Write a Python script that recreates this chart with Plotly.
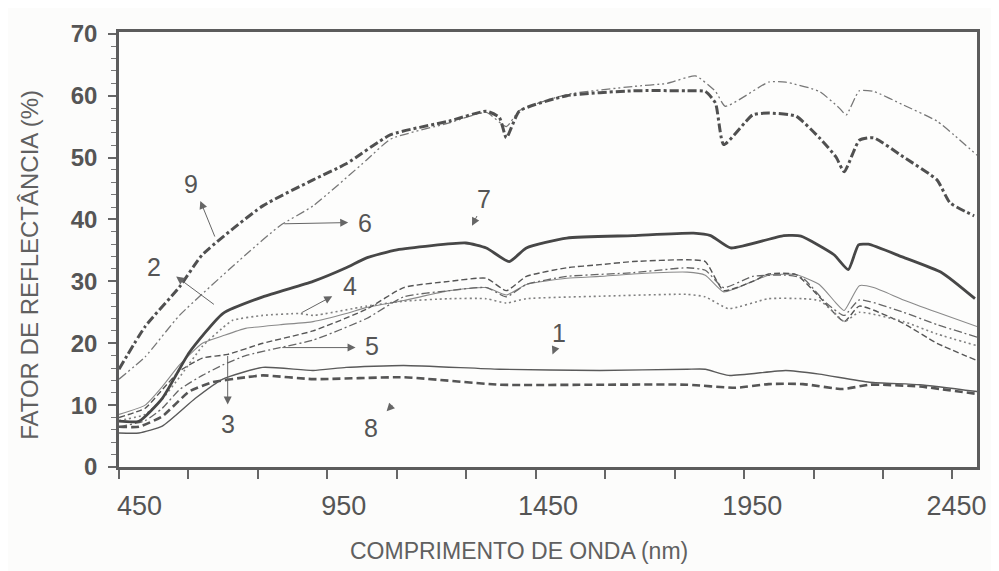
import plotly.graph_objects as go

# ---- data (wavelength nm, reflectance %) ----
wl_1 = [400, 449, 506, 587, 654, 752, 875, 956, 1097, 1331, 1577, 1791, 1835, 1892, 2032, 2114, 2237, 2360, 2500]
r_1 = [5.5, 5.5, 6.6, 11.1, 14.2, 16.1, 15.6, 16.1, 16.4, 15.8, 15.6, 15.8, 15.8, 14.8, 15.6, 15.0, 13.7, 13.3, 12.2]

wl_2 = [400, 464, 506, 548, 604, 654, 710, 794, 875, 956, 1006, 1097, 1208, 1299, 1348, 1397, 1496, 1577, 1658,
        1791, 1835, 1880, 1951, 1990, 2057, 2114, 2155, 2175, 2212, 2247, 2320, 2402, 2500]
r_2 = [8.5, 10.0, 13.0, 16.5, 20.0, 21.2, 22.4, 23.0, 23.5, 24.8, 25.8, 26.9, 28.5, 29.0, 27.8, 29.5, 30.5, 30.8, 31.2,
       31.5, 31.0, 28.3, 30.0, 31.0, 31.1, 29.5, 26.5, 25.3, 29.3, 29.0, 27.0, 25.0, 22.7]

wl_3 = [400, 464, 506, 548, 604, 666, 752, 875, 1006, 1097, 1208, 1299, 1348, 1397, 1496, 1577, 1658, 1791, 1835,
        1880, 1951, 1990, 2057, 2114, 2175, 2212, 2320, 2402, 2500]
r_3 = [8.0, 9.5, 12.5, 15.5, 17.6, 18.2, 20.0, 22.0, 25.5, 29.0, 30.0, 30.5, 28.5, 30.8, 32.2, 32.7, 33.2, 33.5, 33.2,
       28.5, 30.0, 31.2, 31.1, 27.5, 23.5, 26.0, 23.2, 20.0, 17.2]

wl_4 = [400, 464, 506, 548, 604, 654, 678, 752, 843, 875, 1006, 1097, 1208, 1299, 1348, 1397, 1577, 1791, 1835,
        1892, 1990, 2074, 2114, 2150, 2175, 2212, 2320, 2402, 2500]
r_4 = [7.5, 8.5, 11.0, 14.5, 19.5, 22.5, 23.7, 24.5, 24.8, 24.5, 26.0, 26.8, 27.2, 27.2, 26.5, 27.2, 27.6, 27.9, 27.5,
       25.6, 27.2, 27.2, 26.9, 25.0, 23.5, 25.0, 23.5, 21.5, 19.6]

wl_5 = [400, 464, 506, 548, 604, 654, 710, 794, 875, 1006, 1097, 1208, 1299, 1348, 1397, 1496, 1658, 1791, 1835,
        1880, 1951, 2032, 2074, 2131, 2175, 2212, 2320, 2402, 2500]
r_5 = [6.5, 7.5, 9.5, 12.5, 14.8, 16.5, 18.0, 19.3, 20.5, 24.0, 27.5, 28.5, 29.0, 27.5, 29.5, 30.8, 31.4, 32.2, 31.8,
       29.0, 30.8, 31.0, 30.5, 26.5, 24.5, 27.0, 25.0, 23.0, 21.0]

wl_6 = [400, 464, 548, 710, 794, 875, 1006, 1065, 1208, 1299, 1348, 1380, 1496, 1658, 1742, 1811, 1860, 1884, 1990,
        2032, 2114, 2163, 2180, 2212, 2247, 2320, 2402, 2443, 2500]
r_6 = [14.2, 17.8, 24.5, 34.3, 39.0, 42.2, 49.6, 53.0, 55.6, 57.3, 55.0, 57.6, 60.2, 61.5, 62.0, 63.2, 60.7, 58.3, 62.2,
       62.2, 60.7, 58.0, 56.9, 60.8, 60.7, 58.5, 55.9, 53.7, 50.4]

wl_7 = [400, 449, 506, 572, 654, 752, 875, 956, 1006, 1080, 1249, 1299, 1355, 1397, 1496, 1658, 1806, 1848, 1897,
        2027, 2069, 2150, 2185, 2210, 2234, 2315, 2414, 2495]
r_7 = [7.4, 7.4, 11.1, 18.5, 24.8, 27.5, 30.0, 32.2, 33.8, 35.1, 36.2, 35.4, 33.2, 35.4, 37.0, 37.4, 37.8, 37.4, 35.4,
       37.4, 37.3, 34.3, 31.9, 35.9, 36.0, 34.0, 31.4, 27.2]

wl_8 = [400, 449, 506, 572, 629, 710, 752, 875, 1097, 1331, 1577, 1791, 1909, 1990, 2074, 2172, 2237, 2360, 2500]
r_8 = [6.5, 6.5, 8.2, 12.2, 13.7, 14.5, 14.8, 14.2, 14.5, 13.3, 13.3, 13.3, 12.8, 13.4, 13.4, 12.6, 13.3, 13.0, 11.8]

wl_9 = [400, 464, 548, 604, 752, 875, 956, 1065, 1208, 1299, 1331, 1348, 1380, 1496, 1658, 1791, 1835, 1860, 1880,
        1951, 1990, 2057, 2114, 2155, 2175, 2212, 2247, 2320, 2402, 2434, 2493]
r_9 = [15.8, 22.7, 29.1, 34.3, 42.2, 46.4, 49.0, 53.7, 55.9, 57.5, 56.5, 53.2, 57.5, 60.0, 60.8, 60.8, 60.7, 58.8, 52.1,
       56.9, 57.2, 56.7, 53.2, 50.1, 47.7, 52.8, 53.2, 50.1, 46.4, 42.7, 40.6]

x_tick_vals = [450, 950, 1450, 1950, 2450]
y_tick_vals = [0, 10, 20, 30, 40, 50, 60, 70]
x_title = "COMPRIMENTO DE ONDA (nm)"
y_title = "FATOR DE REFLECTÂNCIA (%)"

# curve labels: (text, label x, label y, arrow head x, head y, tail x, tail y)
labels = [
    ("9", 575, 45.8, 599, 43.0, 636, 37.0),
    ("6", 1003, 39.5, 961, 39.5, 801, 39.3),
    ("7", 1294, 43.3, 1264, 39.0, 1278, 40.8),
    ("2", 486, 32.4, 540, 30.8, 636, 26.1),
    ("4", 966, 29.2, 922, 27.6, 843, 24.8),
    ("5", 1018, 19.6, 979, 19.3, 796, 19.3),
    ("3", 666, 7.0, 666, 10.1, 666, 18.2),
    ("8", 1016, 6.3, 1055, 9.0, 1072, 10.2),
    ("1", 1478, 21.6, 1461, 18.2, 1470, 19.6),
]

styles = {
    "1": dict(color="#5a5a5a", width=1.4, dash="solid"),
    "2": dict(color="#8a8a8a", width=1.1, dash="solid"),
    "3": dict(color="#555555", width=1.4, dash="6px,3px"),
    "4": dict(color="#808080", width=1.6, dash="2px,3px"),
    "5": dict(color="#666666", width=1.3, dash="8px,3px,2px,3px"),
    "6": dict(color="#777777", width=1.3, dash="9px,3px,2px,3px,2px,3px"),
    "7": dict(color="#474747", width=2.8, dash="solid"),
    "8": dict(color="#555555", width=2.6, dash="8px,4px"),
    "9": dict(color="#505050", width=3.0, dash="9px,3px,3px,3px"),
}

series = [("1", wl_1, r_1), ("2", wl_2, r_2), ("3", wl_3, r_3), ("4", wl_4, r_4), ("5", wl_5, r_5),
          ("6", wl_6, r_6), ("7", wl_7, r_7), ("8", wl_8, r_8), ("9", wl_9, r_9)]

fig = go.Figure()
for name, xs, ys in series:
    fig.add_trace(go.Scatter(x=xs, y=ys, mode="lines", name=name,
                             line=dict(shape="spline", smoothing=0.5, **styles[name]),
                             showlegend=False, hoverinfo="skip"))

font_main = "Liberation Sans Narrow, Liberation Sans, Arial, sans-serif"
for txt, lx, ly, hx, hy, tx, ty in labels:
    fig.add_annotation(x=lx, y=ly, text=txt, showarrow=False,
                       font=dict(family="Liberation Sans, Arial", size=25, color="#555555"))
    fig.add_annotation(x=hx, y=hy, ax=tx, ay=ty, axref="x", ayref="y", text="",
                       showarrow=True, arrowhead=2, arrowsize=1.6, arrowwidth=1,
                       arrowcolor="#666666")

# axis titles placed as paper annotations
fig.add_annotation(xref="paper", yref="paper", x=-0.1036, y=0.465, xanchor="center", yanchor="middle",
                   text=y_title, textangle=-90, showarrow=False,
                   font=dict(family="Liberation Sans, Arial", size=24, color="#606060"))
fig.add_annotation(xref="paper", yref="paper", x=0.4657, y=-0.193, xanchor="center", yanchor="middle",
                   text=x_title, showarrow=False,
                   font=dict(family=font_main, size=23, color="#606060"))

fig.update_layout(
    width=991, height=563,
    margin=dict(l=111, r=21, t=14, b=104),
    paper_bgcolor="#fcfcfb", plot_bgcolor="#fdfdfc",
    font=dict(family="Liberation Sans, Arial", color="#5a5a5a"),
)
fig.update_xaxes(
    range=[400, 2500], showgrid=False, zeroline=False,
    showline=True, linecolor="#5c5c5c", linewidth=2.5, mirror=True,
    tickmode="array", tickvals=x_tick_vals, ticks="", ticklabelstandoff=13,
    tickfont=dict(family=font_main, size=27, color="#555555"),
    minor=dict(tickmode="array", tickvals=[400 + 170 * k for k in range(13)],
               ticks="outside", ticklen=9, tickwidth=1.5, tickcolor="#666666"),
)
fig.update_yaxes(
    range=[0, 70.3], showgrid=False, zeroline=False,
    showline=True, linecolor="#5c5c5c", linewidth=2.5, mirror=True,
    tickmode="array", tickvals=y_tick_vals, ticks="outside", ticklen=8, tickwidth=1.5, tickcolor="#666666",
    ticklabelstandoff=6,
    tickfont=dict(family="Liberation Sans, Arial", size=24, color="#555555", weight="bold"),
    minor=dict(dtick=2, ticks="outside", ticklen=5, tickwidth=1, tickcolor="#777777"),
)

fig.write_html("out.html")
